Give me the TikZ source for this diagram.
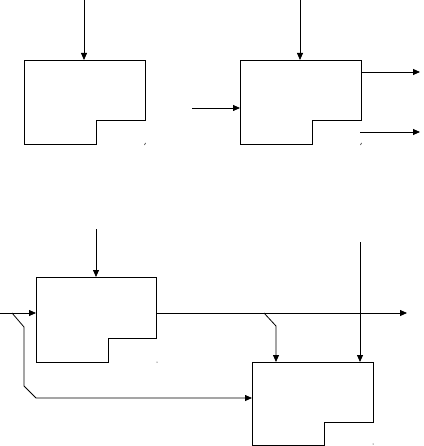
\documentclass[tikz,border=0pt]{standalone}
\usetikzlibrary{arrows.meta}
\begin{document}
\begin{tikzpicture}[x=1pt,y=-1pt,
  boxline/.style={line width=0.8pt,line join=miter},
  flow/.style={line width=0.8pt,-{Triangle[length=7pt,width=6pt]}},
  plain/.style={line width=0.8pt},
  speck/.style={line width=0.5pt}]
\useasboundingbox (0,0) rectangle (423,446);
% box 1
\draw[boxline] (24,60) coordinate (b1tl) -- (145,60) -- (145,120) -- (96,120) -- (96,144) -- (24,144) -- cycle;
\coordinate (b1top) at (84,60);
\coordinate (s1) at (84,0);
\draw[flow] (s1) -- (b1top);
% box 2
\draw[boxline] (240,60) -- (361,60) -- (361,120) -- (312,120) -- (312,144) -- (240,144) -- cycle;
\coordinate (b2top) at (300,60);
\coordinate (b2left) at (240,108);
\coordinate (s2) at (300,0);
\coordinate (s3) at (192,108);
\draw[flow] (s2) -- (b2top);
\draw[flow] (s3) -- (b2left);
\coordinate (o1a) at (361,72);
\coordinate (o1b) at (420,72);
\coordinate (o2a) at (360,132);
\coordinate (o2b) at (420,132);
\draw[flow] (o1a) -- (o1b);
\draw[flow] (o2a) -- (o2b);
% box 3
\draw[boxline] (36,277) -- (156,277) -- (156,338) -- (108,338) -- (108,362) -- (36,362) -- cycle;
\coordinate (b3top) at (96,277);
\coordinate (b3left) at (36,313);
\coordinate (b3right) at (156,313);
\coordinate (s4) at (96,229);
\coordinate (s5) at (0,313);
\draw[flow] (s4) -- (b3top);
\draw[flow] (s5) -- (b3left);
% box 4
\draw[boxline] (252,362) -- (373,362) -- (373,422) -- (324,422) -- (324,445) -- (252,445) -- cycle;
\coordinate (b4left) at (252,398);
\coordinate (b4top1) at (276,362);
\coordinate (b4top2) at (360,362);
\coordinate (s6) at (360,242);
\coordinate (out) at (407,313);
% feedback from left input
\coordinate (j1) at (12,313);
\draw[flow] (j1) -- (24,327) -- (24,386) -- (36,398) -- (b4left);
% output of box 3
\draw[flow] (b3right) -- (out);
\coordinate (j2) at (264,313);
\draw[flow] (j2) -- (276,326) -- (b4top1);
\draw[flow] (s6) -- (b4top2);
% specks
\draw[speck] (145.5,143) -- (144.5,145);
\draw[speck] (361.5,143) -- (360.5,145);
\fill (157,362) circle (0.5);
\fill (373,444) circle (0.5);
\end{tikzpicture}
\end{document}
